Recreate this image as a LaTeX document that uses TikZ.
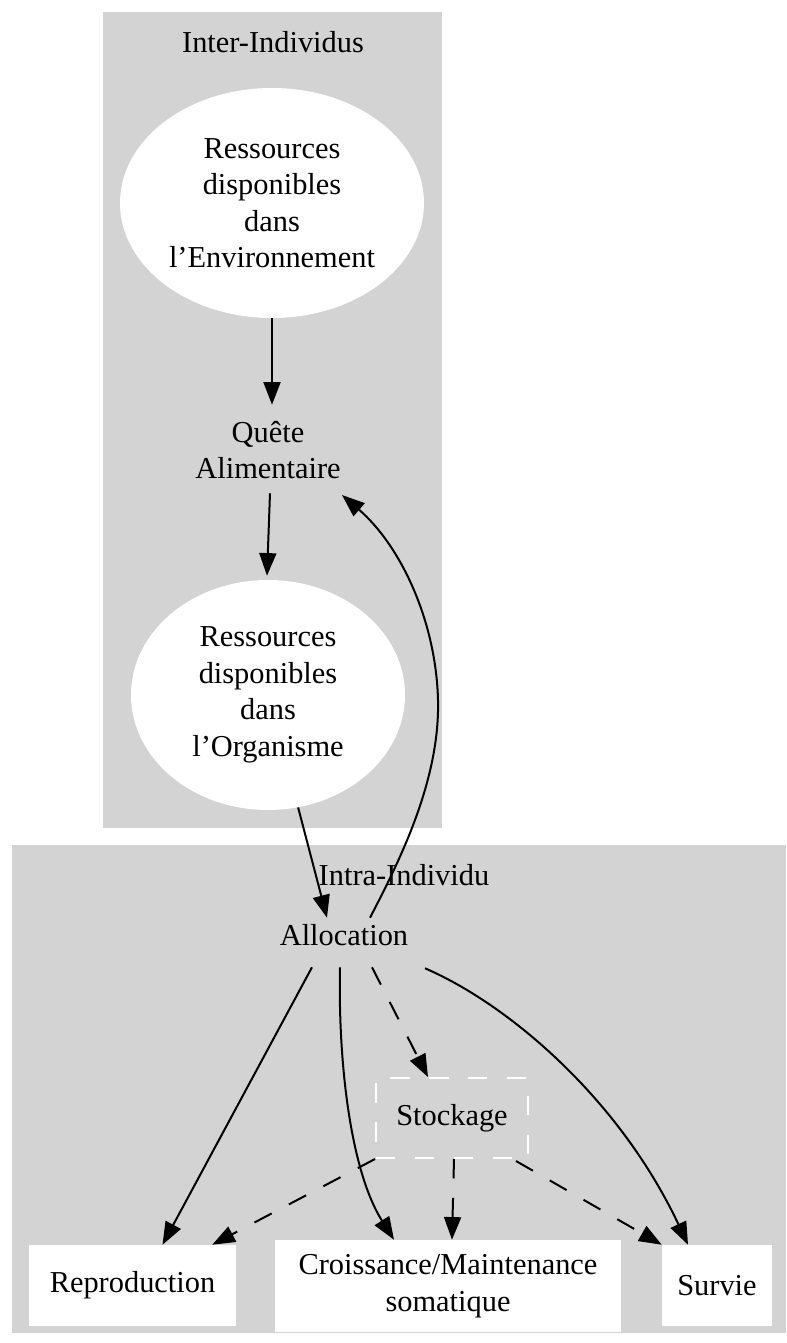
\documentclass[tikz,border=0pt]{standalone}
\usepackage{fontspec}
\setmainfont{Liberation Serif}
\usetikzlibrary{arrows.meta,shapes.geometric,calc}
\definecolor{clgray}{HTML}{D3D3D3}
\begin{document}
\begin{tikzpicture}[x=0.75pt,y=-0.75pt,
  font=\fontsize{22.8}{27.4}\selectfont,
  cluster/.style={rectangle, fill=clgray, draw=none, inner sep=0pt},
  ell/.style={ellipse, fill=white, draw=none, align=center, inner sep=0pt},
  plain/.style={rectangle, align=center, inner sep=0pt},
  box/.style={rectangle, fill=white, draw=none, align=center, inner sep=0pt},
  edge/.style={line width=1.5pt, -{Triangle[length=17pt,width=12.75pt]}},
  dsh/.style={edge, dash pattern=on 14.6pt off 14.6pt}]
\useasboundingbox (0,0) rectangle (787,1343);
% clusters
\node[cluster, minimum width=254.25pt, minimum height=612pt] (inter) at (272.5,420) {};
\node[cluster, minimum width=580.5pt, minimum height=366pt] (intra) at (399,1089) {};
\node[plain] (interlbl) at (273,42) {Inter-Individus};
\node[plain] (intralbl) at (404,875) {Intra-Individu};
% nodes
\node[ell, minimum width=228pt, minimum height=172.5pt] (e1) at (272,203)
  {Ressources\\disponibles\\dans\\l’Environnement};
\node[plain, minimum width=127.5pt, minimum height=67.5pt] (quete) at (268,450)
  {Quête\\Alimentaire};
\node[ell, minimum width=205.5pt, minimum height=172.5pt] (e2) at (268,695)
  {Ressources\\disponibles\\dans\\l’Organisme};
\node[plain, minimum width=127.5pt, minimum height=48pt] (alloc) at (344,935) {Allocation};
\node[plain, draw=white, line width=1.5pt, dash pattern=on 14.6pt off 14.6pt,
  minimum width=114pt, minimum height=60pt] (stock) at (452,1118) {Stockage};
\node[box, minimum width=155.25pt, minimum height=60.75pt] (repro) at (132.5,1285.5) {Reproduction};
\node[box, minimum width=259.5pt, minimum height=69pt] (croiss) at (448,1286)
  {Croissance/Maintenance\\somatique};
\node[box, minimum width=82.5pt, minimum height=60.75pt] (survie) at (717,1285.5) {Survie};
% edges
\draw[edge] (e1.south) -- ($(quete.north)+(4,0)$);
\draw[edge] ($(quete.south)+(2,-2)$) -- ($(e2.north)+(-1,-4)$);
\draw[edge] (e2.-75) -- ($(alloc.north)+(-17,15)$);
\draw[edge] ($(alloc.north)+(26,15)$) .. controls (400,860) and (440,780) .. (438,700)
  .. controls (436,620) and (400,545) .. ($(quete.center)+(74,45)$);
\draw[edge] ($(alloc.south)+(-32,0)$) -- ($(repro.north)+(30,0)$);
\draw[edge] ($(alloc.south)+(-4,0)$) .. controls (338,1060) and (350,1170) .. ($(croiss.north)+(-54,0)$);
\draw[dsh] ($(alloc.south)+(28,0)$) -- ($(stock.north)+(-24,0)$);
\draw[edge] ($(alloc.south)+(81,1)$) .. controls (510,1005) and (620,1100) .. ($(survie.north)+(-29,0)$);
\draw[dsh] (stock.south west) -- ($(repro.north east)+(-24,0)$);
\draw[dsh] ($(stock.south)+(2,0)$) -- ($(croiss.north)+(4,0)$);
\draw[dsh] ($(stock.south east)+(-13,2)$) -- (survie.north west);
\end{tikzpicture}
\end{document}
